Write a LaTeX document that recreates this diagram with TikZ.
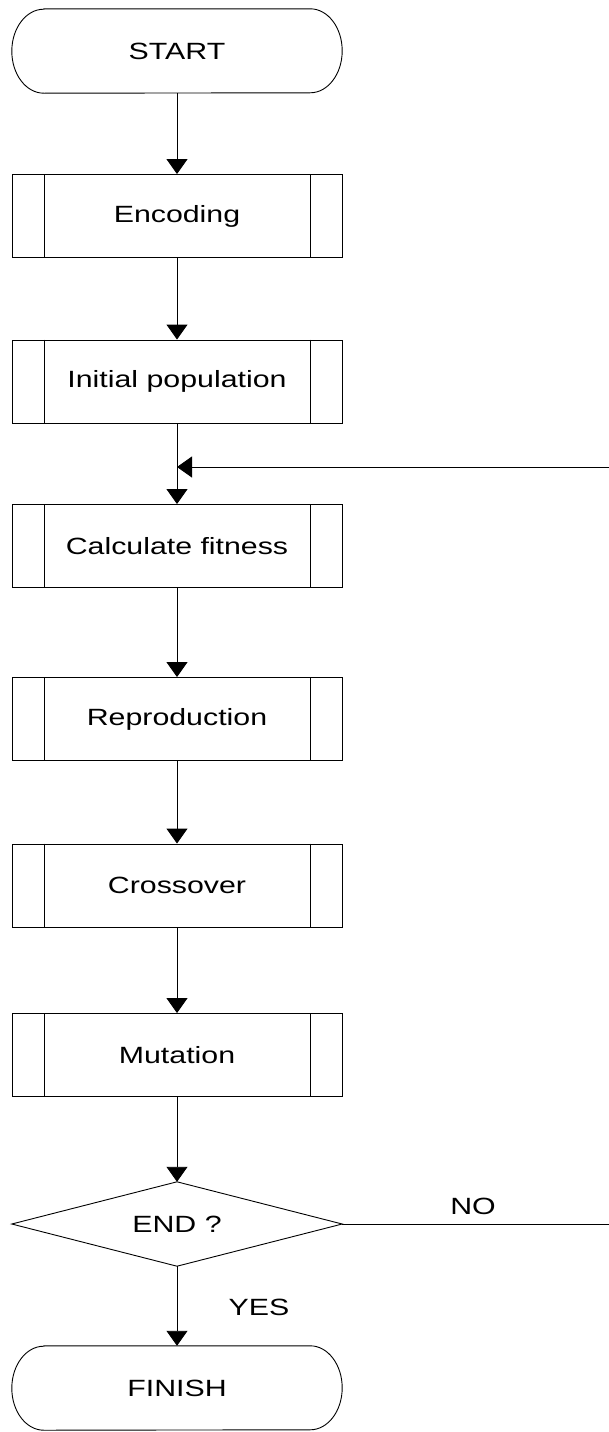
\documentclass[tikz,border=0pt]{standalone}
\usepackage{fontspec}
\setmainfont{Liberation Sans}
\usetikzlibrary{arrows.meta}
\newcommand\wtext[1]{\scalebox{1.29}[1]{#1}}
\tikzset{
  x=1pt, y=1pt,
  every node/.style={font=\fontsize{23.5}{28}\selectfont, inner sep=0pt},
  shapeline/.style={draw=black, line width=0.9pt},
  proc/.style={shapeline, rectangle, minimum width=330pt, minimum height=83pt},
  term/.style={minimum width=330pt, minimum height=84pt},
  dec/.style={minimum width=330pt, minimum height=84pt},
  arr/.style={draw=black, line width=0.9pt, -{Triangle[length=15pt,width=21pt]}},
  plain/.style={draw=black, line width=0.9pt},
  lbl/.style={}
}
\begin{document}
\begin{tikzpicture}
\useasboundingbox (0,0) rectangle (609,-1432);

% START terminal
\node[term] (start) at (177,-51) {\wtext{START}};
\draw[shapeline] ([xshift=32pt]start.north west) -- ([xshift=-32pt]start.north east)
  arc[start angle=90, end angle=-90, x radius=32pt, y radius=42pt]
  -- ([xshift=32pt]start.south west)
  arc[start angle=270, end angle=90, x radius=32pt, y radius=42pt] -- cycle;

% process boxes
\foreach \name/\yy/\txt in {enc/216/Encoding, init/381.5/Initial population, calc/546/Calculate fitness, repr/719/Reproduction, cross/885.5/Crossover, mut/1055/Mutation}{
  \node[proc] (\name) at (177,-\yy) {\wtext{\txt}};
  \draw[shapeline] ([xshift=33pt]\name.north west) -- ([xshift=33pt]\name.south west);
  \draw[shapeline] ([xshift=-32pt]\name.north east) -- ([xshift=-32pt]\name.south east);
}

% decision
\node[dec] (end) at (177,-1224) {\wtext{END ?}};
\draw[shapeline] (end.north) -- (end.east) -- (end.south) -- (end.west) -- cycle;

% FINISH terminal
\node[term] (finish) at (177,-1388) {\wtext{FINISH}};
\draw[shapeline] ([xshift=32pt]finish.north west) -- ([xshift=-32pt]finish.north east)
  arc[start angle=90, end angle=-90, x radius=32pt, y radius=42pt]
  -- ([xshift=32pt]finish.south west)
  arc[start angle=270, end angle=90, x radius=32pt, y radius=42pt] -- cycle;

% connectors
\draw[arr] (start.south) -- (enc.north);
\draw[arr] (enc.south) -- (init.north);
\draw[arr] (init.south) -- (calc.north);
\draw[arr] (calc.south) -- (repr.north);
\draw[arr] (repr.south) -- (cross.north);
\draw[arr] (cross.south) -- (mut.north);
\draw[arr] (mut.south) -- (end.north);
\draw[arr] (end.south) -- (finish.north);

% loop back
\coordinate (noR) at (609,-1224);
\coordinate (loopR) at (609,-467);
\draw[plain] (end.east) -- (noR);
\draw[arr] (loopR) -- (loopR -| init.south);

% labels
\node[lbl] (nolbl) at (473,-1206) {\wtext{NO}};
\node[lbl] (yeslbl) at (259,-1307) {\wtext{YES}};
\end{tikzpicture}
\end{document}
